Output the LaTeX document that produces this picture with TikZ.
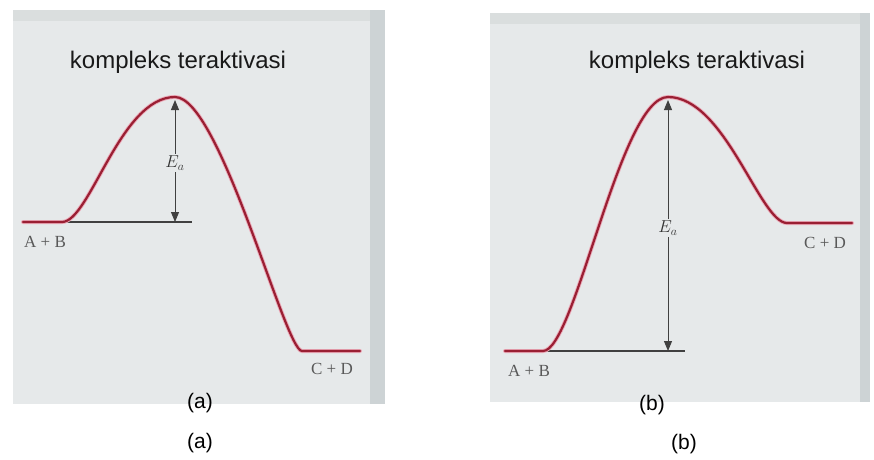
\documentclass[tikz,border=0pt]{standalone}
\usepackage{fontspec}
\setmainfont{Liberation Serif}
\setsansfont{Liberation Sans}
\usetikzlibrary{arrows.meta}
\definecolor{bg}{HTML}{E6E9EA}
\definecolor{edgeband}{HTML}{CDD3D5}
\definecolor{topband}{HTML}{DADEDE}
\definecolor{curvecol}{HTML}{9A1F33}
\definecolor{halocol}{HTML}{EBAAB8}
\begin{document}
\begin{tikzpicture}[x=1pt,y=-1pt,
  energy/.style={draw=curvecol,line width=2.2pt,line cap=round},
  halo/.style={draw=halocol,line width=4pt,line cap=round},
  base/.style={draw=black!75,line width=1.1pt},
  ea/.style={draw=black!75,line width=1pt,-{Triangle[length=10pt,width=8pt]}},
  title/.style={font=\sffamily\fontsize{24}{24}\selectfont,text=black!90,inner sep=0pt},
  species/.style={font=\fontsize{17}{17}\selectfont,text=black!65,inner sep=0pt},
  elabel/.style={font=\fontsize{18}{18}\selectfont,text=black!80,inner sep=2pt},
  caption/.style={font=\sffamily\fontsize{21}{21}\selectfont,inner sep=0pt}]
\useasboundingbox[fill=white] (0,0) rectangle (874,459);
% ---------- panel (a) board ----------
\fill[bg] (13,10) rectangle (385,404);
\fill[topband] (13,10) rectangle (385,21);
\fill[edgeband] (370,10) rectangle (385,404);
% ---------- panel (b) board ----------
\fill[bg] (490,13) rectangle (870,402);
\fill[topband] (490,13) rectangle (870,24);
\fill[edgeband] (860,13) rectangle (870,402);
% ---------- panel (a) ----------
\coordinate (sA) at (23,222);
\coordinate (rA) at (62,222);
\coordinate (pA) at (175,97);
\coordinate (fA) at (302,351);
\coordinate (eA) at (360,351);
\coordinate (blA) at (192,222);
\draw[base] (rA) -- (blA);
\draw[halo] (sA) -- (rA) .. controls (90,222) and (120,97) .. (pA)
  .. controls (220,97) and (285,351) .. (fA) -- (eA);
\draw[energy] (sA) -- (rA) .. controls (90,222) and (120,97) .. (pA)
  .. controls (220,97) and (285,351) .. (fA) -- (eA);
\node[title] (tA) at (178,62) {kompleks teraktivasi};
\node[elabel] (eaA) at (175,163) {$E_a$};
\coordinate (topA) at (175,100);
\coordinate (botA) at (175,222);
\draw[ea] (eaA.north) -- (topA);
\draw[ea] (eaA.south) -- (botA);
\node[species] (abA) at (45,242) {A + B};
\node[species] (cdA) at (332,369) {C + D};
\node[caption] (capA1) at (200,403) {(a)};
\node[caption] (capA2) at (200,443) {(a)};
% ---------- panel (b) ----------
\coordinate (sB) at (505,351);
\coordinate (rB) at (543,351);
\coordinate (pB) at (668,97);
\coordinate (fB) at (787,223);
\coordinate (eB) at (852,223);
\coordinate (blB) at (685,351);
\draw[base] (rB) -- (blB);
\draw[halo] (sB) -- (rB) .. controls (575,351) and (620,97) .. (pB)
  .. controls (725,97) and (760,223) .. (fB) -- (eB);
\draw[energy] (sB) -- (rB) .. controls (575,351) and (620,97) .. (pB)
  .. controls (725,97) and (760,223) .. (fB) -- (eB);
\node[title] (tB) at (697,62) {kompleks teraktivasi};
\node[elabel] (eaB) at (668,228) {$E_a$};
\coordinate (topB) at (668,100);
\coordinate (botB) at (668,351);
\draw[ea] (eaB.north) -- (topB);
\draw[ea] (eaB.south) -- (botB);
\node[species] (abB) at (529,371) {A + B};
\node[species] (cdB) at (825,243) {C + D};
\node[caption] (capB1) at (652,405) {(b)};
\node[caption] (capB2) at (684,444) {(b)};
\end{tikzpicture}
\end{document}
